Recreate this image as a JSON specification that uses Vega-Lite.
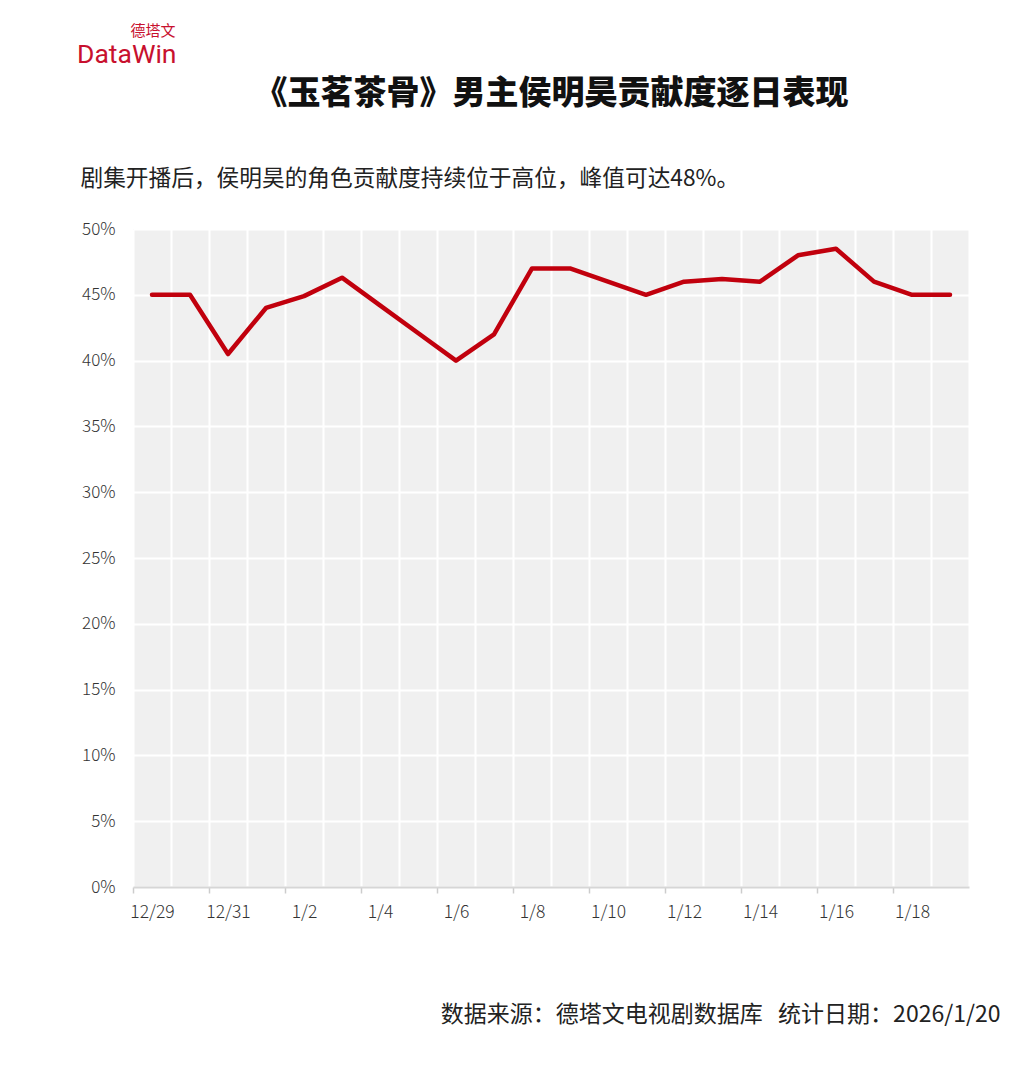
{
  "$schema": "https://vega.github.io/schema/vega-lite/v6.json",
  "width": 836,
  "height": 658,
  "autosize": "none",
  "padding": {"left": 133, "top": 229, "right": 66, "bottom": 178},
  "background": "white",
  "title": {
    "text": "DataWin",
    "anchor": "start",
    "frame": "bounds",
    "color": "#c8102e",
    "font": "Roboto",
    "fontSize": 26.5,
    "fontWeight": "normal",
    "baseline": "alphabetic",
    "dx": -3,
    "dy": 70
  },
  "data": {
    "values": [
      {"date": "12/29", "value": 45.0},
      {"date": "12/30", "value": 45.0},
      {"date": "12/31", "value": 40.5},
      {"date": "1/1", "value": 44.0},
      {"date": "1/2", "value": 44.9},
      {"date": "1/3", "value": 46.3},
      {"date": "1/4", "value": 44.2},
      {"date": "1/5", "value": 42.1},
      {"date": "1/6", "value": 40.0},
      {"date": "1/7", "value": 42.0},
      {"date": "1/8", "value": 47.0},
      {"date": "1/9", "value": 47.0},
      {"date": "1/10", "value": 46.0},
      {"date": "1/11", "value": 45.0},
      {"date": "1/12", "value": 46.0},
      {"date": "1/13", "value": 46.2},
      {"date": "1/14", "value": 46.0},
      {"date": "1/15", "value": 48.0},
      {"date": "1/16", "value": 48.5},
      {"date": "1/17", "value": 46.0},
      {"date": "1/18", "value": 45.0},
      {"date": "1/19", "value": 45.0}
    ]
  },
  "layer": [
    {
      "mark": {"type": "line", "opacity": 0},
      "encoding": {
        "x": {
          "field": "date", "type": "ordinal", "sort": null, "bandPosition": 0.5,
          "scale": {"type": "band", "paddingInner": 0, "paddingOuter": 0},
          "axis": {
            "orient": "top",
            "grid": true,
            "gridColor": "#ffffff",
            "gridWidth": 2,
            "tickBand": "extent",
            "labels": false,
            "ticks": false,
            "domain": false,
            "title": "《玉茗茶骨》男主侯明昊贡献度逐日表现",
            "titleX": 418,
            "titleY": -136,
            "titleAlign": "center",
            "titleBaseline": "middle",
            "titleFontSize": 33,
            "titleFontWeight": 900,
            "titleColor": "#111111"
          }
        },
        "y": {
          "field": "value", "type": "quantitative",
          "scale": {"domain": [0, 50]},
          "axis": {
            "orient": "right",
            "grid": false,
            "labels": false,
            "ticks": false,
            "domain": false,
            "title": "德塔文",
            "titleAngle": 0,
            "titleX": -794,
            "titleY": -199,
            "titleAlign": "right",
            "titleBaseline": "middle",
            "titleFontSize": 15,
            "titleFontWeight": "normal",
            "titleColor": "#c8102e"
          }
        }
      }
    },
    {
      "mark": {"type": "line", "color": "#c1000d", "strokeWidth": 4.5, "strokeJoin": "round", "strokeCap": "round"},
      "encoding": {
        "x": {
          "field": "date", "type": "ordinal", "sort": null, "bandPosition": 0.5,
          "scale": {"type": "band", "paddingInner": 0, "paddingOuter": 0},
          "axis": {
            "orient": "bottom",
            "values": ["12/29", "12/31", "1/2", "1/4", "1/6", "1/8", "1/10", "1/12", "1/14", "1/16", "1/18"],
            "grid": false,
            "tickOffset": -19,
            "labelOffset": 19,
            "ticks": true,
            "tickSize": 6,
            "tickColor": "#cccccc",
            "tickWidth": 1.5,
            "domain": true,
            "domainColor": "#d6d6d6",
            "domainWidth": 2,
            "labelAngle": 0,
            "labelPadding": 10,
            "labelFontSize": 17.5,
            "labelFontWeight": 300,
            "labelColor": "#333333",
            "title": "数据来源：德塔文电视剧数据库\u00a0\u00a0\u00a0统计日期：2026/1/20",
            "titleX": 867,
            "titleY": 127,
            "titleAlign": "right",
            "titleBaseline": "middle",
            "titleFontSize": 23,
            "titleFontWeight": "normal",
            "titleColor": "#222222"
          }
        },
        "y": {
          "field": "value", "type": "quantitative",
          "scale": {"domain": [0, 50]},
          "axis": {
            "orient": "left",
            "values": [0, 5, 10, 15, 20, 25, 30, 35, 40, 45, 50],
            "labelExpr": "datum.value + '%'",
            "grid": true,
            "gridColor": "#ffffff",
            "gridWidth": 2,
            "ticks": false,
            "tickSize": 0,
            "domain": false,
            "labelPadding": 18,
            "labelFontSize": 17,
            "labelFontWeight": 300,
            "labelColor": "#333333",
            "title": "剧集开播后，侯明昊的角色贡献度持续位于高位，峰值可达48%。",
            "titleAngle": 0,
            "titleX": -53,
            "titleY": -51,
            "titleAlign": "left",
            "titleBaseline": "middle",
            "titleFontSize": 22.7,
            "titleFontWeight": "normal",
            "titleColor": "#222222"
          }
        }
      }
    }
  ],
  "resolve": {"axis": {"x": "independent", "y": "independent"}},
  "config": {
    "font": "Noto Sans CJK SC",
    "view": {"fill": "#f0f0f0", "stroke": null},
    "axis": {"labelFont": "Noto Sans CJK SC", "titleFont": "Noto Sans CJK SC"}
  }
}
